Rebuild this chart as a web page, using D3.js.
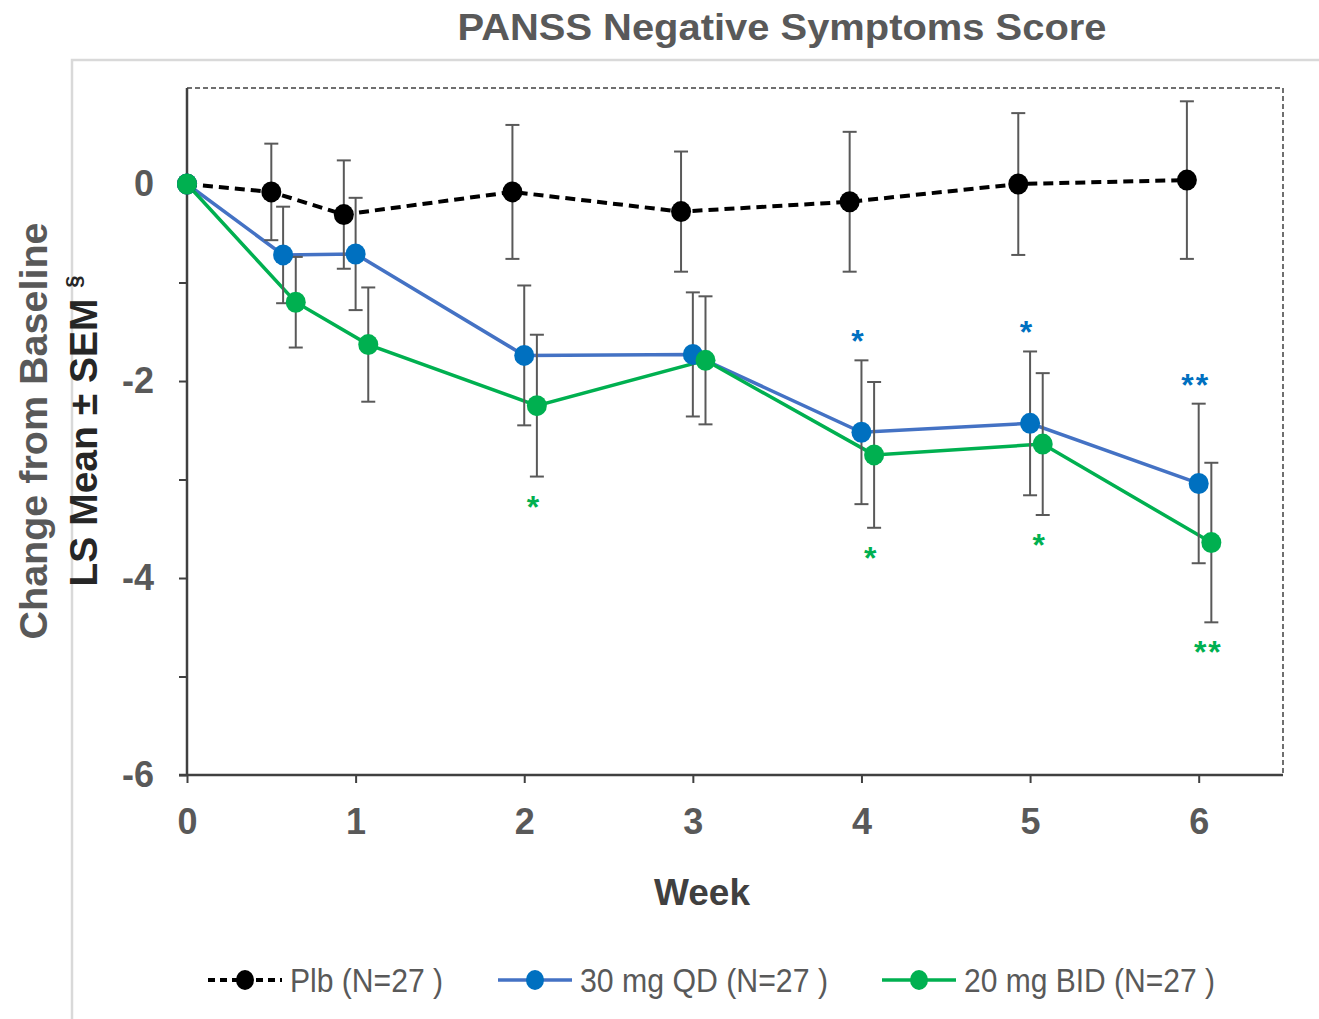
<!DOCTYPE html>
<html>
<head>
<meta charset="utf-8">
<script src="https://cdn.jsdelivr.net/npm/d3@7"></script>
<style>
  body { margin: 0; background: #fff; }
  svg { display: block; }
</style>
</head>
<body>
<svg id="board" width="1319" height="1019"></svg>
<script>
// visits (weeks) and series values
let weeks = [0, 0.57, 1, 2, 3, 4, 5, 6]
let weekTicks = [0, 1, 2, 3, 4, 5, 6]
let yTicks = [0, -1, -2, -3, -4, -5, -6]

let plbMean = [0, -0.08, -0.31, -0.08, -0.28, -0.18, 0.0, 0.04]
let plbSem  = [0, 0.49, 0.55, 0.68, 0.61, 0.71, 0.72, 0.80]
let qdMean  = [0, -0.72, -0.71, -1.74, -1.73, -2.52, -2.43, -3.04]
let qdSem   = [0, 0.49, 0.57, 0.71, 0.63, 0.73, 0.73, 0.81]
let bidMean = [0, -1.20, -1.63, -2.25, -1.79, -2.75, -2.64, -3.64]
let bidSem  = [0, 0.46, 0.58, 0.72, 0.65, 0.74, 0.72, 0.81]

let qdSig  = ['', '', '', '', '', '*', '*', '**']
let bidSig = ['', '', '', '*', '', '*', '*', '**']

let seriesNames = ['Plb (N=27 )', '30 mg QD (N=27 )', '20 mg BID (N=27 )']

let board = d3.select('#board')
let font = 'Liberation Sans, Arial, sans-serif'

let x = d3.scaleLinear().domain([0, 6.5]).range([187, 1283])
let y = d3.scaleLinear().domain([-6, 0.975]).range([775, 88])

let series = [
    {name: seriesNames[0], mean: plbMean, sem: plbSem, sig: null, shift: -0.07,
     line: '#000', dot: '#000', dash: '10,6', width: 4},
    {name: seriesNames[1], mean: qdMean, sem: qdSem, sig: qdSig, shift: 0,
     line: '#4472C4', dot: '#0070C0', dash: null, width: 3.5, sigSide: 'up'},
    {name: seriesNames[2], mean: bidMean, sem: bidSem, sig: bidSig, shift: 0.075,
     line: '#00B050', dot: '#00B050', dash: null, width: 3.5, sigSide: 'down'}
]

series.forEach((s) => {
    s.points = weeks.map((w, i) => {
        return {w: w === 0 ? 0 : w + s.shift, v: s.mean[i], e: s.sem[i], sig: s.sig ? s.sig[i] : ''}
    })
})

// outer light frame
board.append('path')
    .attr('d', 'M72,1019 V60 H1319')
    .attr('fill', 'none')
    .attr('stroke', '#d9d9d9')
    .attr('stroke-width', 2.5)

// title
board.append('text')
    .attr('x', 782).attr('y', 40)
    .attr('text-anchor', 'middle')
    .attr('font-family', font)
    .attr('font-weight', 'bold')
    .attr('font-size', 37)
    .attr('fill', '#595959')
    .attr('textLength', 649)
    .attr('lengthAdjust', 'spacingAndGlyphs')
    .text('PANSS Negative Symptoms Score')

// dashed plot frame top/right
board.append('path')
    .attr('d', `M${x(0)},${y.range()[1]} H${x(6.5)} V${y(-6)}`)
    .attr('fill', 'none')
    .attr('stroke', '#404040')
    .attr('stroke-width', 1.5)
    .attr('stroke-dasharray', '5,3')

// axes
let yAxis = d3.axisLeft(y).tickValues(yTicks).tickSize(8)
    .tickFormat((d) => d % 2 === 0 ? String(d) : '')
let gy = board.append('g').attr('transform', `translate(${x(0)},0)`).call(yAxis)
gy.select('.domain').attr('stroke', '#404040').attr('stroke-width', 2.5)
    .attr('d', `M0,${y.range()[1]}V${y(-6)}`)
gy.selectAll('.tick line').attr('stroke', '#404040').attr('stroke-width', 2)
gy.selectAll('.tick text')
    .attr('x', -33)
    .attr('font-family', font)
    .attr('font-weight', 'bold')
    .attr('font-size', 36)
    .attr('fill', '#595959')

let xAxis = d3.axisBottom(x).tickValues(weekTicks).tickSize(8).tickFormat((d) => String(d))
let gx = board.append('g').attr('transform', `translate(0,${y(-6)})`).call(xAxis)
gx.select('.domain').attr('stroke', '#404040').attr('stroke-width', 2.5)
    .attr('d', `M${x(0) - 8},0H${x(6.5)}`)
gx.selectAll('.tick line').attr('stroke', '#404040').attr('stroke-width', 2)
gx.selectAll('.tick text')
    .attr('y', 33)
    .attr('font-family', font)
    .attr('font-weight', 'bold')
    .attr('font-size', 36)
    .attr('fill', '#595959')

// axis titles
board.append('text')
    .attr('x', 702).attr('y', 905)
    .attr('text-anchor', 'middle')
    .attr('font-family', font)
    .attr('font-weight', 'bold')
    .attr('font-size', 37)
    .attr('fill', '#404040')
    .text('Week')

let ylab = board.append('g').attr('transform', 'translate(0,431) rotate(-90)')
ylab.append('text')
    .attr('x', 0).attr('y', 47)
    .attr('text-anchor', 'middle')
    .attr('font-family', font)
    .attr('font-weight', 'bold')
    .attr('font-size', 39.5)
    .attr('fill', '#595959')
    .text('Change from Baseline')
let l2 = ylab.append('text')
    .attr('x', 0).attr('y', 97)
    .attr('text-anchor', 'middle')
    .attr('font-family', font)
    .attr('font-weight', 'bold')
    .attr('font-size', 39)
    .attr('fill', '#262626')
l2.append('tspan').text('LS Mean ± SEM ')
l2.append('tspan').attr('dy', -16).attr('font-size', 22).text('§')

// lines
let lineGen = d3.line().x((d) => x(d.w)).y((d) => y(d.v))
series.forEach((s) => {
    board.append('path')
        .datum(s.points)
        .attr('d', lineGen)
        .attr('fill', 'none')
        .attr('stroke', s.line)
        .attr('stroke-width', s.width)
        .attr('stroke-dasharray', s.dash)
})

// error bars
series.forEach((s) => {
    let g = board.append('g').attr('stroke', '#595959').attr('stroke-width', 2)
    let pts = s.points.filter((d) => d.e > 0)
    g.selectAll('line.v').data(pts).enter().append('line')
        .attr('x1', (d) => x(d.w)).attr('x2', (d) => x(d.w))
        .attr('y1', (d) => y(d.v + d.e)).attr('y2', (d) => y(d.v - d.e))
    g.selectAll('line.t').data(pts).enter().append('line')
        .attr('x1', (d) => x(d.w) - 7).attr('x2', (d) => x(d.w) + 7)
        .attr('y1', (d) => y(d.v + d.e)).attr('y2', (d) => y(d.v + d.e))
    g.selectAll('line.b').data(pts).enter().append('line')
        .attr('x1', (d) => x(d.w) - 7).attr('x2', (d) => x(d.w) + 7)
        .attr('y1', (d) => y(d.v - d.e)).attr('y2', (d) => y(d.v - d.e))
})

// markers
series.forEach((s) => {
    board.append('g').selectAll('ellipse')
        .data(s.points)
        .enter()
        .append('ellipse')
        .attr('cx', (d) => x(d.w))
        .attr('cy', (d) => y(d.v))
        .attr('rx', 10)
        .attr('ry', 10.5)
        .attr('fill', s.dot)
})

// significance stars (glyph centre sits ~19px above baseline at this size)
series.filter((s) => s.sig).forEach((s) => {
    board.append('g').selectAll('text')
        .data(s.points.filter((d) => d.sig))
        .enter()
        .append('text')
        .attr('x', (d) => x(d.w) - 3)
        .attr('y', (d) => s.sigSide === 'up' ? y(d.v + d.e) - 27 + 19 : y(d.v - d.e) + 22 + 19)
        .attr('text-anchor', 'middle')
        .attr('font-family', font)
        .attr('font-weight', 'bold')
        .attr('font-size', 32)
        .attr('letter-spacing', 2)
        .attr('fill', s.dot)
        .text((d) => d.sig)
})

// legend
let legendX = [208, 498, 882]
let legendWidths = [153, 248, 251]
let legend = board.append('g').attr('transform', 'translate(0,980)')
series.forEach((s, i) => {
    let lg = legend.append('g').attr('transform', `translate(${legendX[i]},0)`)
    lg.append('line')
        .attr('x1', 0).attr('x2', 74)
        .attr('stroke', s.line)
        .attr('stroke-width', s.width)
        .attr('stroke-dasharray', s.dash ? '7,5' : null)
    lg.append('ellipse')
        .attr('cx', 37).attr('rx', 9).attr('ry', 10)
        .attr('fill', s.dot)
    lg.append('text')
        .attr('x', 82).attr('y', 12)
        .attr('font-family', 'Liberation Sans Narrow, Liberation Sans, Arial, sans-serif')
        .attr('font-size', 33)
        .attr('fill', '#595959')
        .attr('textLength', legendWidths[i])
        .attr('lengthAdjust', 'spacingAndGlyphs')
        .text(s.name)
})
</script>
</body>
</html>
